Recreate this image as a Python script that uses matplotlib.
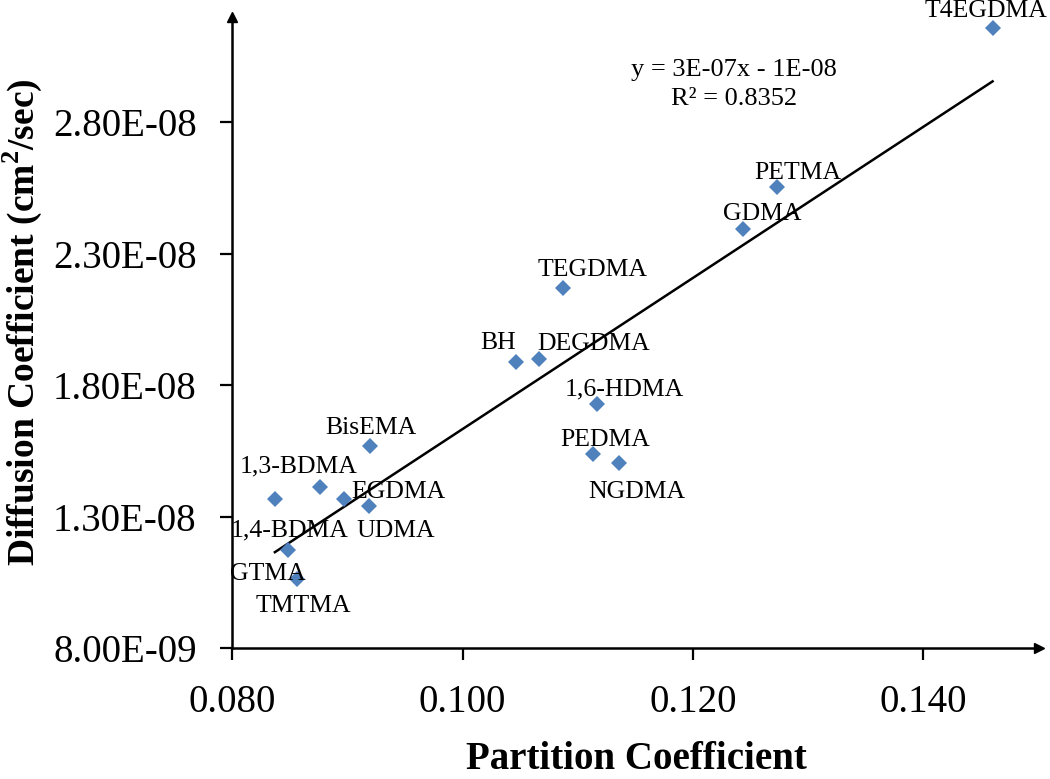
import numpy as np
import matplotlib
matplotlib.use('Agg')
import matplotlib.pyplot as plt
from matplotlib.ticker import FormatStrFormatter

# monomer data
names = ['T4EGDMA', 'PETMA', 'GDMA', 'TEGDMA', 'BH', 'DEGDMA', '1,6-HDMA',
         'PEDMA', 'NGDMA', 'BisEMA', '1,3-BDMA', 'EGDMA', 'UDMA',
         '1,4-BDMA', 'GTMA', 'TMTMA']
partition = [0.1460, 0.1273, 0.1243, 0.1087, 0.1046, 0.1066, 0.1117,
             0.1113, 0.1136, 0.0920, 0.0876, 0.0897, 0.0919,
             0.0837, 0.0848, 0.0856]
diffusion = [31.59e-9, 25.52e-9, 23.93e-9, 21.69e-9, 18.89e-9, 18.99e-9, 17.28e-9,
             15.39e-9, 15.05e-9, 15.68e-9, 14.12e-9, 13.68e-9, 13.39e-9,
             13.65e-9, 11.74e-9, 10.62e-9]

x_ticks = [0.080, 0.100, 0.120, 0.140]
y_ticks = [8.0e-9, 1.3e-8, 1.8e-8, 2.3e-8, 2.8e-8]
eq_text = 'y = 3E-07x - 1E-08'
r2_text = 'R\u00b2 = 0.8352'

# label offsets from each point (pixels, right / down) to label centre
lab_dx = [-7, 21, 20, 30, -18, 55, 27, 12, 18, 0, -21, 54, 26, 15, -20, 7]
lab_dy = [-19, -17, -18, -21, -21, -18, -17, -16, 27, -21, -23, -9, 22, 29, 22, 24]

dpi = 100
serif = 'Liberation Serif'
plt.rcParams['font.family'] = serif
plt.rcParams['mathtext.fontset'] = 'custom'
plt.rcParams['mathtext.rm'] = serif
plt.rcParams['mathtext.bf'] = serif + ':bold'

fig = plt.figure(figsize=(10.5, 7.79), dpi=dpi)
ax = fig.add_axes([0.2212, 0.1682, 0.768, 0.8100])

ax.set_xlim(0.08, 0.15)
ax.set_ylim(8e-9, 3.2e-8)

ax.plot(partition, diffusion, 'D', color='#4F81BD', markersize=8,
        markeredgewidth=0, zorder=3)

# linear trendline
x = np.array(partition)
y = np.array(diffusion)
k, b = np.polyfit(x, y, 1)
xl = np.array([x.min(), x.max()])
ax.plot(xl, k * xl + b, color='black', linewidth=1.8, zorder=2)

for n, px, py, dx, dy in zip(names, partition, diffusion, lab_dx, lab_dy):
    ax.annotate(n, (px, py), xytext=(dx * 72 / dpi, -(dy + 8.5) * 72 / dpi),
                textcoords='offset points', ha='center', va='baseline',
                fontsize=18.5, zorder=4)

ax.text(0.622, 0.907, eq_text, transform=ax.transAxes, ha='center',
        va='baseline', fontsize=19)
ax.text(0.622, 0.860, r2_text, transform=ax.transAxes, ha='center',
        va='baseline', fontsize=19)

for s in ['top', 'right']:
    ax.spines[s].set_visible(False)
for s in ['left', 'bottom']:
    ax.spines[s].set_linewidth(1.8)
ax.plot(1, 0, '>k', markersize=7, transform=ax.transAxes, clip_on=False)
ax.plot(0, 1, '^k', markersize=7, transform=ax.transAxes, clip_on=False)

ax.set_xticks(x_ticks)
ax.set_yticks(y_ticks)
ax.xaxis.set_major_formatter(FormatStrFormatter('%.3f'))
ax.yaxis.set_major_formatter(FormatStrFormatter('%.2E'))
ax.tick_params(direction='out', length=8.6, width=1.6, labelsize=28, pad=17)

fig.text(636.5 / 1050, 1 / 779, 'Partition Coefficient', ha='center',
         va='bottom', fontsize=28, fontweight='bold')
fig.text(22 / 1050, 1 - 322 / 779, r'Diffusion Coefficient (cm$^{\mathbf{2}}$/sec)',
         rotation=90, ha='center', va='center', fontsize=27, fontweight='bold')

plt.savefig('out.png', dpi=dpi, facecolor='w')
